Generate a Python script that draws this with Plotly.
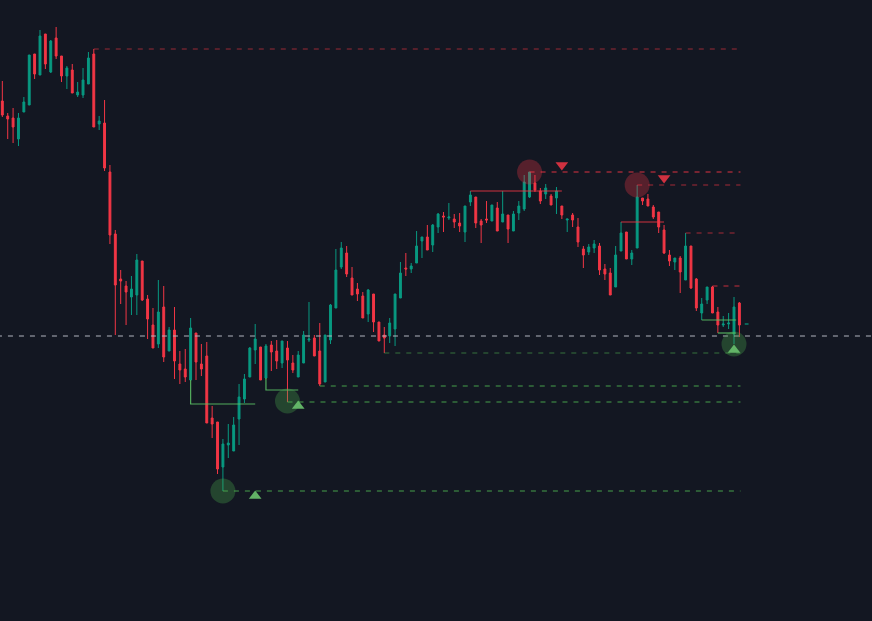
import plotly.graph_objects as go

# ---- OHLC data (price units) ----
opens = [520, 505, 503, 482, 509, 516, 567, 546, 587, 549,
         583, 565, 545, 551, 526, 526, 537, 567, 497, 498,
         449, 387, 342, 335, 324, 326, 360, 322, 296, 277,
         314, 270, 291, 257, 252, 241, 288, 257, 265, 203,
         199, 154, 176, 170, 202, 222, 244, 271, 274, 243,
         276, 270, 258, 273, 258, 244, 258, 281, 283, 270,
         239, 281, 313, 354, 368, 343, 332, 325, 307, 327,
         299, 286, 285, 292, 323, 353, 352, 358, 380, 384,
         376, 394, 405, 403, 402, 398, 389, 419, 424, 400,
         402, 400, 413, 399, 406, 390, 408, 412, 424, 438,
         430, 427, 425, 423, 415, 401, 406, 394, 372, 369,
         373, 375, 352, 348, 334, 370, 389, 362, 373, 423,
         422, 414, 409, 391, 366, 359, 363, 341, 375, 342,
         308, 321, 334, 309, 296, 297, 287, 318]
highs = [540, 508, 513, 508, 524, 566, 567, 591, 587, 581,
         594, 565, 555, 557, 539, 553, 569, 572, 505, 521,
         456, 391, 351, 340, 345, 367, 360, 326, 313, 341,
         335, 294, 314, 270, 272, 303, 288, 277, 279, 215,
         199, 182, 197, 204, 237, 247, 274, 297, 274, 277,
         280, 281, 280, 280, 266, 270, 290, 319, 286, 298,
         286, 317, 372, 379, 375, 354, 338, 329, 332, 327,
         299, 294, 303, 327, 359, 368, 358, 390, 384, 396,
         397, 408, 409, 418, 407, 408, 415, 430, 424, 402,
         420, 416, 419, 430, 406, 410, 420, 446, 449, 446,
         433, 437, 427, 434, 415, 402, 408, 403, 375, 377,
         381, 378, 357, 353, 375, 399, 389, 371, 436, 423,
         427, 416, 409, 396, 371, 363, 365, 388, 375, 343,
         323, 334, 335, 314, 305, 308, 324, 319]
lows = [504, 482, 478, 475, 509, 516, 542, 546, 552, 548,
        562, 539, 532, 528, 524, 523, 537, 494, 491, 450,
        377, 286, 317, 296, 306, 306, 320, 282, 273, 273,
        259, 270, 242, 237, 239, 241, 241, 245, 198, 183,
        147, 130, 163, 170, 176, 218, 244, 257, 241, 243,
        250, 252, 253, 219, 248, 244, 258, 279, 265, 235,
        239, 277, 313, 352, 344, 326, 320, 303, 299, 289,
        280, 268, 278, 275, 323, 345, 348, 358, 363, 371,
        369, 388, 389, 401, 393, 389, 379, 415, 393, 378,
        398, 400, 390, 399, 378, 390, 401, 410, 423, 429,
        417, 422, 416, 407, 402, 389, 394, 374, 353, 366,
        368, 346, 341, 326, 334, 370, 362, 356, 373, 416,
        415, 402, 388, 367, 355, 351, 328, 341, 332, 310,
        301, 317, 308, 288, 294, 292, 277, 284]
closes = [506, 502, 494, 503, 519, 566, 547, 585, 557, 580,
          565, 545, 553, 528, 529, 541, 563, 494, 500, 453,
          386, 336, 340, 329, 332, 361, 321, 302, 273, 309,
          264, 291, 260, 251, 244, 293, 259, 252, 198, 197,
          152, 177, 178, 196, 224, 242, 273, 282, 241, 275,
          269, 260, 280, 261, 251, 266, 286, 282, 265, 237,
          286, 316, 351, 373, 347, 326, 327, 303, 331, 299,
          280, 283, 298, 327, 348, 352, 355, 375, 384, 371,
          396, 407, 404, 404, 399, 395, 415, 426, 398, 396,
          401, 416, 390, 407, 392, 407, 415, 439, 449, 431,
          420, 433, 416, 430, 406, 402, 401, 379, 366, 374,
          377, 351, 347, 326, 366, 388, 362, 368, 424, 420,
          415, 404, 394, 368, 360, 363, 349, 375, 333, 313,
          317, 334, 308, 296, 297, 298, 314, 296]
bars = list(range(len(opens)))

# ---- liquidity levels ----
LEVEL_END = 137.2
last_price = 285
# (price, start bar, opacity)
high_levels = [(572, 17, 0.6), (449, 98, 0.9), (436, 118, 0.65), (388, 127, 0.65), (335, 132, 0.8)]
low_levels = [(130, 41, 0.9), (219, 53, 0.9), (235, 59, 0.9), (268, 71, 0.6)]
# solid zone lines: (price, start bar, end bar, from price)
high_zones = [(430, 87, 104, 430), (399, 115, 123, 399)]
low_zones = [(217, 35, 47, 241), (231, 49, 55, 243), (301, 130, 136.4, 301), (288, 133, 136.3, 288)]
# pivot circles
high_pivots_x = [98, 118]
high_pivots_y = [449, 436]
low_pivots_x = [41, 53, 136]
low_pivots_y = [130, 220, 277]
# triangles
down_tri_x = [104, 123]
down_tri_y = [456, 443]
up_tri_x = [47, 55, 136]
up_tri_y = [125, 215, 271]

UP = "#089981"
DOWN = "#f23645"
BG = "#131722"

fig = go.Figure()
fig.add_trace(go.Candlestick(
    x=bars, open=opens, high=highs, low=lows, close=closes,
    increasing=dict(line=dict(color=UP, width=1), fillcolor=UP),
    decreasing=dict(line=dict(color=DOWN, width=1), fillcolor=DOWN),
    whiskerwidth=0, hoverinfo="skip"))

# current price line
fig.add_trace(go.Scatter(x=[-1, 163], y=[last_price, last_price], mode="lines",
                         line=dict(color="rgba(178,181,190,1)", width=1, dash="5px,6px"),
                         hoverinfo="skip"))

for p, s, a in high_levels:
    fig.add_trace(go.Scatter(x=[s, LEVEL_END], y=[p, p], mode="lines",
                             line=dict(color=f"rgba(242,54,69,{a})", width=1, dash="5px,6px"),
                             hoverinfo="skip"))
for p, s, a in low_levels:
    fig.add_trace(go.Scatter(x=[s, LEVEL_END], y=[p, p], mode="lines",
                             line=dict(color=f"rgba(76,175,80,{a})", width=1, dash="5px,6px"),
                             hoverinfo="skip"))
for p, s, e, f0 in high_zones:
    fig.add_trace(go.Scatter(x=[s, s, e], y=[f0, p, p], mode="lines",
                             line=dict(color="rgba(242,54,69,0.85)", width=1.2),
                             hoverinfo="skip"))
for p, s, e, f0 in low_zones:
    fig.add_trace(go.Scatter(x=[s, s, e], y=[f0, p, p], mode="lines",
                             line=dict(color="rgba(90,190,100,0.9)", width=1.2),
                             hoverinfo="skip"))

# small trailing dash
fig.add_trace(go.Scatter(x=[138.0, 138.7], y=[297, 297], mode="lines",
                         line=dict(color=UP, width=1.2), hoverinfo="skip"))

fig.add_trace(go.Scatter(x=high_pivots_x, y=high_pivots_y, mode="markers",
                         marker=dict(size=25, color="rgba(242,54,69,0.3)", line=dict(width=0)),
                         hoverinfo="skip"))
fig.add_trace(go.Scatter(x=low_pivots_x, y=low_pivots_y, mode="markers",
                         marker=dict(size=25, color="rgba(76,175,80,0.3)", line=dict(width=0)),
                         hoverinfo="skip"))
fig.add_trace(go.Scatter(x=down_tri_x, y=down_tri_y, mode="markers",
                         marker=dict(symbol="triangle-down", size=11, color="rgba(242,54,69,0.85)",
                                     line=dict(width=0)),
                         hoverinfo="skip"))
fig.add_trace(go.Scatter(x=up_tri_x, y=up_tri_y, mode="markers",
                         marker=dict(symbol="triangle-up", size=11, color="rgba(102,187,106,0.95)",
                                     line=dict(width=0)),
                         hoverinfo="skip"))

fig.update_layout(
    width=872, height=621,
    margin=dict(l=0, r=0, t=0, b=0),
    paper_bgcolor=BG, plot_bgcolor=BG,
    showlegend=False,
    boxgap=0.5,
    xaxis=dict(range=[-0.433, 161.65], visible=False, rangeslider=dict(visible=False),
               showgrid=False, zeroline=False),
    yaxis=dict(range=[0, 621], visible=False, showgrid=False, zeroline=False),
)

fig.write_html("out.html")
